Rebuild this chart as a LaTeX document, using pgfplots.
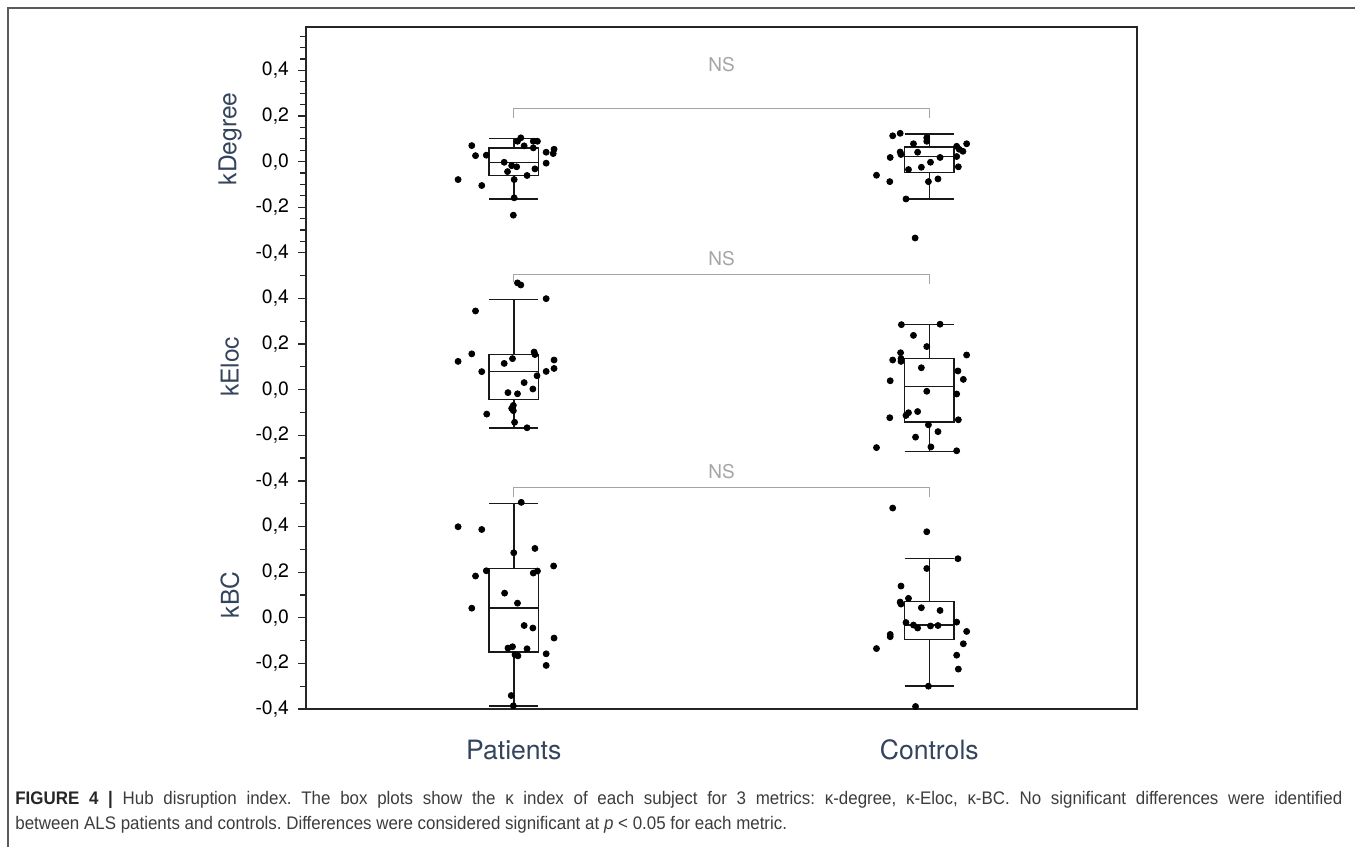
\documentclass[border=0pt]{standalone}
\usepackage{fontspec}
\setmainfont{TeX Gyre Heros}
\newfontfamily\capfont[FakeStretch=0.93]{Liberation Sans}
\usepackage{pgfplots}
\usepackage{pgfplotstable}
\usepgfplotslibrary{statistics}
\pgfplotsset{compat=1.18}
\definecolor{slate}{RGB}{52,68,92}
\definecolor{nsgray}{RGB}{165,165,165}
\definecolor{capgray}{RGB}{60,60,60}
\definecolor{framegray}{RGB}{90,90,90}
\frenchspacing

% jittered subjects: x = horizontal position, v = kappa value
\pgfplotstableread{
x v
1.017 0.104
1.009 0.089
1.047 0.089
1.057 0.089
1.025 0.069
1.047 0.060
0.899 0.070
0.908 0.026
0.934 0.028
1.078 0.041
1.097 0.054
1.095 0.035
1.078 -0.007
0.977 -0.003
0.995 -0.018
1.007 -0.023
0.985 -0.044
1.051 -0.032
1.032 -0.061
0.866 -0.079
0.923 -0.105
1.001 -0.079
1.001 -0.159
0.999 -0.235
}\degpat
\pgfplotstableread{
x v
1.912 0.113
1.930 0.124
1.994 0.104
1.994 0.089
1.962 0.078
1.930 0.042
1.932 0.031
1.906 0.018
1.972 0.041
2.026 0.018
2.003 -0.003
1.981 -0.025
1.950 -0.035
2.066 0.067
2.072 0.054
2.081 0.045
2.090 0.078
2.066 0.022
2.070 -0.023
1.873 -0.060
1.905 -0.088
1.998 -0.088
2.021 -0.076
1.944 -0.164
1.966 -0.335
}\degcon
\pgfplotstableread{
x v
1.009 0.468
1.017 0.459
1.078 0.399
0.908 0.345
0.899 0.157
0.866 0.124
1.049 0.165
1.051 0.154
0.997 0.136
0.977 0.115
1.097 0.130
1.097 0.093
1.078 0.080
0.923 0.079
1.056 0.061
1.025 0.031
1.046 0.003
0.986 -0.013
1.009 -0.018
0.999 -0.069
0.995 -0.082
0.999 -0.092
0.935 -0.107
1.002 -0.143
1.032 -0.167
}\elocpat
\pgfplotstableread{
x v
1.933 0.285
2.026 0.287
1.962 0.238
1.994 0.189
1.931 0.162
1.912 0.130
1.932 0.136
1.932 0.124
2.090 0.152
1.981 0.096
2.069 0.082
2.082 0.045
1.906 0.039
1.994 -0.007
2.066 -0.019
1.972 -0.096
1.950 -0.101
1.944 -0.113
1.905 -0.123
2.070 -0.132
1.998 -0.154
2.021 -0.184
1.967 -0.208
1.873 -0.254
2.004 -0.251
2.066 -0.268
}\eloccon
\pgfplotstableread{
x v
1.018 0.506
0.866 0.399
0.923 0.387
1.000 0.285
1.051 0.304
1.096 0.227
0.934 0.206
0.908 0.183
1.047 0.196
1.057 0.205
0.978 0.108
1.009 0.064
0.899 0.042
1.025 -0.034
1.046 -0.045
1.097 -0.089
0.986 -0.133
0.997 -0.127
1.032 -0.136
1.003 -0.162
1.010 -0.167
1.078 -0.158
1.078 -0.209
0.994 -0.341
0.999 -0.386
}\bcpat
\pgfplotstableread{
x v
1.912 0.481
1.994 0.377
2.069 0.259
1.994 0.216
1.932 0.139
1.930 0.069
1.932 0.060
1.950 0.085
1.981 0.044
2.026 0.032
1.944 -0.021
1.962 -0.032
1.972 -0.045
2.003 -0.036
2.021 -0.034
2.066 -0.019
2.090 -0.060
1.906 -0.073
1.906 -0.083
2.082 -0.114
1.873 -0.135
2.066 -0.164
2.070 -0.225
1.998 -0.300
1.967 -0.389
}\bccon

\begin{document}
\begin{tikzpicture}
\useasboundingbox (0,0) rectangle (677.5pt,423.5pt);
\draw[framegray, line width=0.6pt] (4pt,0) -- (4pt,419.5pt) -- (677.5pt,419.5pt);

% panels are stacked on one axis: kBC at offset 0, kEloc at 1, kDegree at 2
\begin{axis}[
  at={(153pt,69pt)}, anchor=south west,
  scale only axis, width=415.5pt, height=341pt,
  xmin=0.5, xmax=2.5, ymin=-0.4, ymax=2.59,
  clip=false,
  axis line style={black!85, line width=0.8pt},
  xtick={1,2}, xticklabels={Patients, Controls},
  major x tick style={draw=none},
  xticklabel style={text=slate, font=\fontsize{13.3}{15}\selectfont, yshift=-8pt},
  ytick pos=left, tick align=outside,
  ytick={-0.4,-0.2,0,0.2,0.4,0.6,0.8,1.0,1.2,1.4,1.6,1.8,2.0,2.2,2.4},
  yticklabels={{-0,4},{-0,2},{0,0},{0,2},{0,4},{-0,4},{-0,2},{0,0},{0,2},{0,4},{-0,4},{-0,2},{0,0},{0,2},{0,4}},
  minor ytick={-0.3,-0.1,0.1,0.3,0.5,0.7,0.9,1.1,1.3,1.5,1.65,1.7,1.75,1.85,1.9,1.95,2.05,2.1,2.15,2.25,2.3,2.35,2.45,2.5,2.55},
  major tick length=4pt, minor tick length=3pt,
  every tick/.style={black!85, line width=0.6pt},
  yticklabel style={font=\fontsize{9.7}{11}\selectfont, xshift=-1pt},
  boxplot/draw direction=y,
  boxsty/.style={black!90, line width=0.75pt, solid},
  dotsty/.style={only marks, mark=*, mark size=1.5pt, black},
]
% boxes
\addplot[boxsty, boxplot prepared={draw position=1, lower whisker=1.835, lower quartile=1.940, median=1.997, upper quartile=2.060, upper whisker=2.102, box extend=0.118, whisker extend=0.118}] coordinates {};
\addplot[boxsty, boxplot prepared={draw position=2, lower whisker=1.836, lower quartile=1.952, median=2.022, upper quartile=2.064, upper whisker=2.120, box extend=0.118, whisker extend=0.118}] coordinates {};
\addplot[boxsty, boxplot prepared={draw position=1, lower whisker=0.833, lower quartile=0.956, median=1.080, upper quartile=1.155, upper whisker=1.396, box extend=0.118, whisker extend=0.118}] coordinates {};
\addplot[boxsty, boxplot prepared={draw position=2, lower whisker=0.729, lower quartile=0.858, median=1.013, upper quartile=1.137, upper whisker=1.285, box extend=0.118, whisker extend=0.118}] coordinates {};
\addplot[boxsty, boxplot prepared={draw position=1, lower whisker=-0.386, lower quartile=-0.151, median=0.042, upper quartile=0.215, upper whisker=0.500, box extend=0.118, whisker extend=0.118}] coordinates {};
\addplot[boxsty, boxplot prepared={draw position=2, lower whisker=-0.300, lower quartile=-0.095, median=-0.032, upper quartile=0.072, upper whisker=0.259, box extend=0.118, whisker extend=0.118}] coordinates {};
% subjects
\addplot[dotsty] table[x=x, y expr=\thisrow{v}+2] {\degpat};
\addplot[dotsty] table[x=x, y expr=\thisrow{v}+2] {\degcon};
\addplot[dotsty] table[x=x, y expr=\thisrow{v}+1] {\elocpat};
\addplot[dotsty] table[x=x, y expr=\thisrow{v}+1] {\eloccon};
\addplot[dotsty] table[x=x, y=v] {\bcpat};
\addplot[dotsty] table[x=x, y=v] {\bccon};
% significance brackets
\addplot[nsgray, line width=0.7pt] coordinates {(1,2.190) (1,2.232) (2,2.232) (2,2.190)};
\addplot[nsgray, line width=0.7pt] coordinates {(1,1.470) (1,1.504) (2,1.504) (2,1.462)};
\addplot[nsgray, line width=0.7pt] coordinates {(1,0.529) (1,0.571) (2,0.571) (2,0.529)};
\node[text=nsgray, font=\fontsize{9.5}{11}\selectfont] at (axis cs:1.5,2.425) {NS};
\node[text=nsgray, font=\fontsize{9.5}{11}\selectfont] at (axis cs:1.5,1.575) {NS};
\node[text=nsgray, font=\fontsize{9.5}{11}\selectfont] at (axis cs:1.5,0.640) {NS};
% panel names
\node[rotate=90, text=slate, font=\fontsize{12.3}{14}\selectfont] at (axis cs:0.317,2.1) {kDegree};
\node[rotate=90, text=slate, font=\fontsize{12.3}{14}\selectfont] at (axis cs:0.317,1.1) {kEloc};
\node[rotate=90, text=slate, font=\fontsize{12.3}{14}\selectfont] at (axis cs:0.317,0.1) {kBC};
\end{axis}

\node[anchor=base west, inner sep=0, text=capgray, font=\capfont\fontsize{9.1}{11}\selectfont] at (7.5pt,21.5pt)
  {\makebox[663.5pt][s]{\textbf{\color{black!85}FIGURE 4 |} Hub disruption index. The box plots show the κ index of each subject for 3 metrics: κ-degree, κ-Eloc, κ-BC. No significant differences were identified}};
\node[anchor=base west, inner sep=0, text=capgray, font=\capfont\fontsize{9.1}{11}\selectfont] at (7.5pt,9pt)
  {between ALS patients and controls. Differences were considered significant at \textit{p}~<~0.05 for each metric.};
\end{tikzpicture}
\end{document}
